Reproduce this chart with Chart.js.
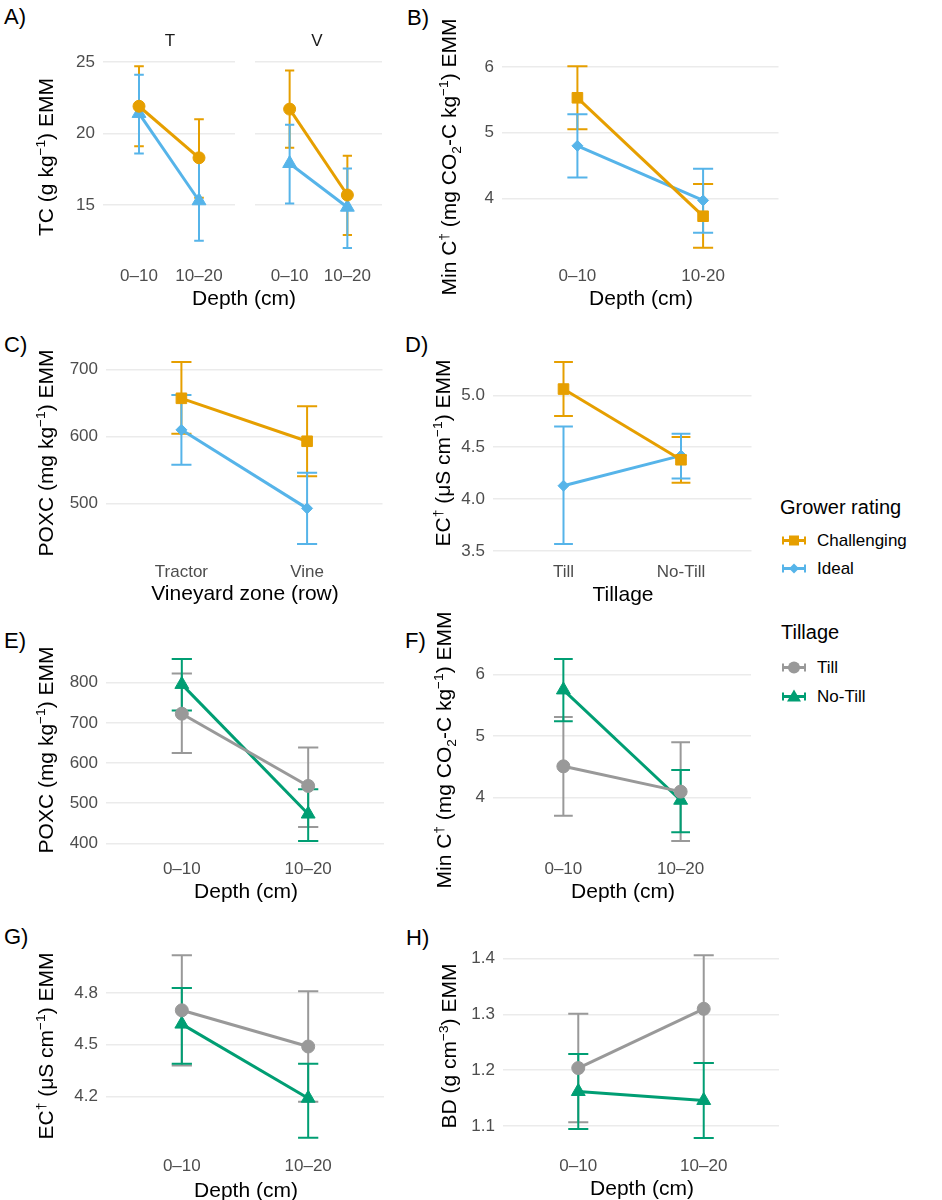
<!DOCTYPE html>
<html>
<head>
<meta charset="utf-8">
<script src="https://cdn.jsdelivr.net/npm/chart.js@4.4.1/dist/chart.umd.min.js"></script>
<style>
  body { margin: 0; background: #fff; font-family: "Liberation Sans", Arial, sans-serif; }
  #page { position: relative; width: 942px; height: 1200px; overflow: hidden; }
  canvas { position: absolute; }
  .txt { position: absolute; white-space: nowrap; color: #000; line-height: 1; }
  .plab { font-size: 22px; transform: translateY(-50%); }
  .xt { font-size: 21px; transform: translate(-50%, -50%); }
  .yt { font-size: 21px; transform: translate(-50%, -50%) rotate(-90deg); }
  .strip { font-size: 17px; color: #1a1a1a; transform: translate(-50%, -50%); }
  .legt { font-size: 20px; transform: translateY(-50%); }
  .legi { font-size: 17px; transform: translateY(-50%); display: flex; align-items: center; }
  .legi svg { margin-right: 11px; }
  sup, sub { font-size: 65%; line-height: 0; }
</style>
</head>
<body>
<div id="page"></div>
<script>
// categories
const depthCats = ['0–10', '10–20'];
const depthCatsB = ['0–10', '10-20'];
const zoneCats = ['Tractor', 'Vine'];
const tillCats = ['Till', 'No-Till'];

// A) TC, facet T and V (Challenging / Ideal)
const aTChal = [21.9, 18.3], aTChalLo = [19.1, 15.5], aTChalHi = [24.7, 21.0];
const aTIdeal = [21.4, 15.3], aTIdealLo = [18.6, 12.5], aTIdealHi = [24.1, 18.1];
const aVChal = [21.7, 15.7], aVChalLo = [19.0, 12.9], aVChalHi = [24.4, 18.45];
const aVIdeal = [17.9, 14.85], aVIdealLo = [15.1, 12.0], aVIdealHi = [20.6, 17.55];
const aTicks = [15, 20, 25];

// B) Min C by depth
const bChal = [5.53, 3.73], bChalLo = [5.05, 3.25], bChalHi = [6.01, 4.22];
const bIdeal = [4.8, 3.97], bIdealLo = [4.32, 3.48], bIdealHi = [5.28, 4.45];
const bTicks = [4, 5, 6];

// C) POXC by vineyard zone
const cChal = [657, 593], cChalLo = [604, 541], cChalHi = [711, 645];
const cIdeal = [610, 493], cIdealLo = [558, 440], cIdealHi = [662, 546];
const cTicks = [500, 600, 700];

// D) EC by tillage
const dChal = [5.06, 4.38], dChalLo = [4.80, 4.16], dChalHi = [5.32, 4.60];
const dIdeal = [4.13, 4.42], dIdealLo = [3.57, 4.20], dIdealHi = [4.70, 4.63];
const dTicks = [3.5, 4.0, 4.5, 5.0];

// E) POXC by depth (Till / No-Till)
const eTill = [723, 543], eTillLo = [625, 441], eTillHi = [823, 639];
const eNoTill = [796, 473], eNoTillLo = [731, 406], eNoTillHi = [859, 535];
const eTicks = [400, 500, 600, 700, 800];

// F) Min C by depth
const fTill = [4.51, 4.10], fTillLo = [3.71, 3.30], fTillHi = [5.31, 4.90];
const fNoTill = [5.75, 3.96], fNoTillLo = [5.24, 3.44], fNoTillHi = [6.25, 4.45];
const fTicks = [4, 5, 6];

// G) EC by depth
const gTill = [4.70, 4.49], gTillLo = [4.38, 4.17], gTillHi = [5.02, 4.81];
const gNoTill = [4.62, 4.19], gNoTillLo = [4.39, 3.96], gNoTillHi = [4.83, 4.39];
const gTicks = [4.2, 4.5, 4.8];

// H) BD by depth
const hTill = [1.204, 1.310], hTillLo = [1.107, 1.213], hTillHi = [1.301, 1.406];
const hNoTill = [1.162, 1.146], hNoTillLo = [1.095, 1.079], hNoTillHi = [1.229, 1.213];
const hTicks = [1.1, 1.2, 1.3, 1.4];

const colChal = '#E69F00', colIdeal = '#56B4E9', colTill = '#999999', colNoTill = '#009E73';
const FONT = '"Liberation Sans", Arial, sans-serif';
const capHalf = 0.08;

const page = document.getElementById('page');

// error bars drawn under the lines and points
const errorBars = {
  id: 'errorBars',
  beforeDatasetsDraw(chart) {
    const { ctx, scales: { x, y } } = chart;
    const half = x.getPixelForValue(capHalf) - x.getPixelForValue(0);
    chart.data.datasets.forEach(ds => {
      ctx.save();
      ctx.strokeStyle = ds.borderColor;
      ctx.lineWidth = 2;
      ds.errLo.forEach((lo, i) => {
        const px = x.getPixelForValue(i);
        const y1 = y.getPixelForValue(lo), y2 = y.getPixelForValue(ds.errHi[i]);
        ctx.beginPath();
        ctx.moveTo(px, y1); ctx.lineTo(px, y2);
        ctx.moveTo(px - half, y1); ctx.lineTo(px + half, y1);
        ctx.moveTo(px - half, y2); ctx.lineTo(px + half, y2);
        ctx.stroke();
      });
      ctx.restore();
    });
  }
};

function series(label, col, shape, r, v, lo, hi) {
  return {
    label: label,
    data: v.map((y, i) => ({ x: i, y: y })),
    errLo: lo, errHi: hi,
    borderColor: col, backgroundColor: col,
    pointBorderColor: col, pointBackgroundColor: col,
    borderWidth: 3, pointStyle: shape, pointRadius: r, pointBorderWidth: 1,
    pointHoverRadius: r
  };
}

function panel(box, cats, yMin, yMax, yTicks, dec, sets, yW) {
  const padT = 14, padR = 6, xH = 36;
  const W = yW + box.w + padR, H = padT + box.h + xH;
  const cv = document.createElement('canvas');
  cv.width = W; cv.height = H;
  cv.style.left = (box.l - yW) + 'px';
  cv.style.top = (box.t - padT) + 'px';
  cv.style.width = W + 'px';
  cv.style.height = H + 'px';
  page.appendChild(cv);
  new Chart(cv, {
    type: 'line',
    data: { datasets: sets },
    plugins: [errorBars],
    options: {
      responsive: false,
      animation: false,
      layout: { padding: { top: padT, right: padR, left: 0, bottom: 0 } },
      plugins: { legend: { display: false }, tooltip: { enabled: false } },
      scales: {
        x: {
          type: 'linear', min: -0.6, max: 1.6,
          grid: { display: false }, border: { display: false },
          ticks: {
            color: '#4D4D4D', font: { size: 17, family: FONT }, padding: 1,
            maxRotation: 0, autoSkip: false,
            callback: v => cats[v]
          },
          afterBuildTicks: s => { s.ticks = cats.map((c, i) => ({ value: i })); },
          afterFit: s => { s.height = xH; s.paddingLeft = 0; s.paddingRight = 0; }
        },
        y: {
          min: yMin, max: yMax,
          grid: { color: '#EBEBEB', lineWidth: 1.6, drawTicks: false },
          border: { display: false },
          ticks: {
            display: yW > 20,
            color: '#4D4D4D', font: { size: 17, family: FONT }, padding: 8,
            callback: v => v.toFixed(dec)
          },
          afterBuildTicks: s => { s.ticks = yTicks.map(v => ({ value: v })); },
          afterFit: s => { s.width = yW; s.paddingTop = 0; s.paddingBottom = 0; }
        }
      }
    }
  });
}

function text(cls, x, y, html) {
  const d = document.createElement('div');
  d.className = 'txt ' + cls;
  d.style.left = x + 'px';
  d.style.top = y + 'px';
  d.innerHTML = html;
  page.appendChild(d);
}

// panels
panel({ l: 103, t: 57, w: 135, h: 200 }, depthCats, 11.37, 25.34, aTicks, 0, [
  series('Challenging', colChal, 'circle', 6, aTChal, aTChalLo, aTChalHi),
  series('Ideal', colIdeal, 'triangle', 8, aTIdeal, aTIdealLo, aTIdealHi)
], 64);
panel({ l: 250, t: 57, w: 135, h: 200 }, depthCats, 11.37, 25.34, aTicks, 0, [
  series('Challenging', colChal, 'circle', 6, aVChal, aVChalLo, aVChalHi),
  series('Ideal', colIdeal, 'triangle', 8, aVIdeal, aVIdealLo, aVIdealHi)
], 4);
panel({ l: 502, t: 57, w: 279, h: 200 }, depthCatsB, 3.11, 6.15, bTicks, 0, [
  series('Challenging', colChal, 'rect', 7.5, bChal, bChalLo, bChalHi),
  series('Ideal', colIdeal, 'rectRot', 5.5, bIdeal, bIdealLo, bIdealHi)
], 64);
panel({ l: 106, t: 353, w: 279, h: 200 }, zoneCats, 426.5, 724.5, cTicks, 0, [
  series('Challenging', colChal, 'rect', 7.5, cChal, cChalLo, cChalHi),
  series('Ideal', colIdeal, 'rectRot', 5.5, cIdeal, cIdealLo, cIdealHi)
], 64);
panel({ l: 493, t: 353, w: 261, h: 200 }, tillCats, 3.483, 5.407, dTicks, 1, [
  series('Challenging', colChal, 'rect', 7.5, dChal, dChalLo, dChalHi),
  series('Ideal', colIdeal, 'rectRot', 5.5, dIdeal, dIdealLo, dIdealHi)
], 64);
panel({ l: 106, t: 650, w: 281, h: 200 }, depthCats, 383.4, 881.7, eTicks, 0, [
  series('Till', colTill, 'circle', 6.5, eTill, eTillLo, eTillHi),
  series('No-Till', colNoTill, 'triangle', 8, eNoTill, eNoTillLo, eNoTillHi)
], 64);
panel({ l: 493, t: 650, w: 261, h: 200 }, depthCats, 3.1525, 6.3975, fTicks, 0, [
  series('Till', colTill, 'circle', 6.5, fTill, fTillLo, fTillHi),
  series('No-Till', colNoTill, 'triangle', 8, fNoTill, fNoTillLo, fNoTillHi)
], 64);
panel({ l: 106, t: 946, w: 281, h: 201 }, depthCats, 3.907, 5.073, gTicks, 1, [
  series('Till', colTill, 'circle', 6.5, gTill, gTillLo, gTillHi),
  series('No-Till', colNoTill, 'triangle', 8, gNoTill, gNoTillLo, gNoTillHi)
], 64);
panel({ l: 503, t: 946, w: 279, h: 201 }, depthCats, 1.0627, 1.4224, hTicks, 1, [
  series('Till', colTill, 'circle', 6.5, hTill, hTillLo, hTillHi),
  series('No-Till', colNoTill, 'triangle', 8, hNoTill, hNoTillLo, hNoTillHi)
], 64);

// panel tags
text('plab', 4, 17, 'A)');
text('plab', 407, 18, 'B)');
text('plab', 4, 345, 'C)');
text('plab', 405, 345, 'D)');
text('plab', 4, 641, 'E)');
text('plab', 405, 641, 'F)');
text('plab', 4, 937, 'G)');
text('plab', 406, 938, 'H)');

// facet strips
text('strip', 170, 40, 'T');
text('strip', 317, 40, 'V');

// axis titles
const minC = 'Min C<sup>†</sup> (mg CO<sub>2</sub>-C kg<sup>−1</sup>) EMM';
const ec = 'EC<sup>†</sup> (μS cm<sup>−1</sup>) EMM';
const poxc = 'POXC (mg kg<sup>−1</sup>) EMM';
text('yt', 45, 157, 'TC (g kg<sup>−1</sup>) EMM');
text('yt', 448, 157, minC);
text('yt', 45, 453, poxc);
text('yt', 442, 453, ec);
text('yt', 45, 750, poxc);
text('yt', 443, 750, minC);
text('yt', 45, 1046, ec);
text('yt', 448, 1046, 'BD (g cm<sup>−3</sup>) EMM');

text('xt', 244, 297, 'Depth (cm)');
text('xt', 641, 297, 'Depth (cm)');
text('xt', 245, 592, 'Vineyard zone (row)');
text('xt', 623, 593, 'Tillage');
text('xt', 246, 890, 'Depth (cm)');
text('xt', 623, 890, 'Depth (cm)');
text('xt', 246, 1189, 'Depth (cm)');
text('xt', 642, 1187, 'Depth (cm)');

// legends
function glyph(col, shape) {
  let pt = '';
  if (shape === 'rect') pt = `<rect x="7" y="3" width="10" height="10" fill="${col}"/>`;
  if (shape === 'rectRot') pt = `<polygon points="12,3 17,8 12,13 7,8" fill="${col}"/>`;
  if (shape === 'circle') pt = `<circle cx="12" cy="8" r="6" fill="${col}"/>`;
  if (shape === 'triangle') pt = `<polygon points="12,1 19,13 5,13" fill="${col}"/>`;
  return `<svg width="24" height="16"><line x1="1" y1="8" x2="23" y2="8" stroke="${col}" stroke-width="3"/>` +
    `<line x1="1" y1="4" x2="1" y2="12" stroke="${col}" stroke-width="2"/>` +
    `<line x1="23" y1="4" x2="23" y2="12" stroke="${col}" stroke-width="2"/>${pt}</svg>`;
}
text('legt', 780, 507, 'Grower rating');
text('legi', 782, 540, glyph(colChal, 'rect') + 'Challenging');
text('legi', 782, 568, glyph(colIdeal, 'rectRot') + 'Ideal');
text('legt', 781, 632, 'Tillage');
text('legi', 782, 667, glyph(colTill, 'circle') + 'Till');
text('legi', 782, 696, glyph(colNoTill, 'triangle') + 'No-Till');
</script>
</body>
</html>
